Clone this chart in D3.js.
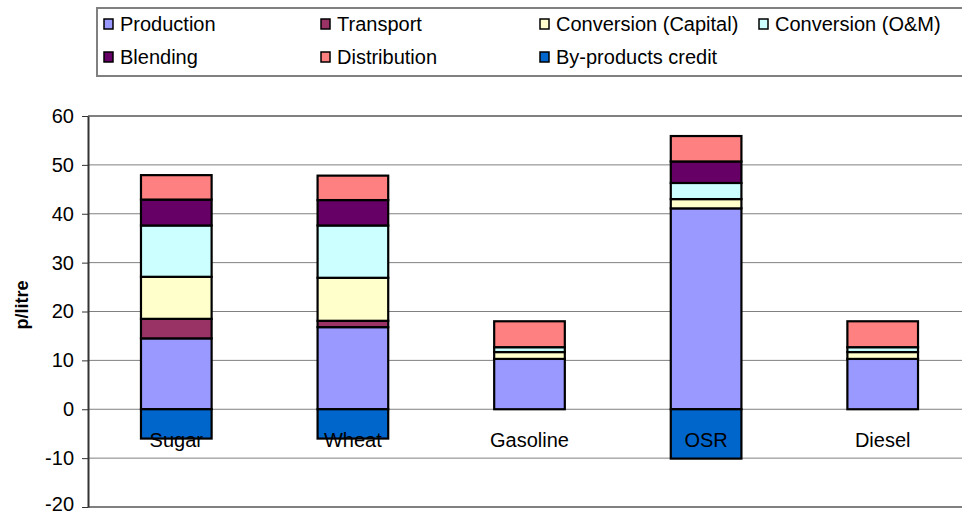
<!DOCTYPE html>
<html>
<head>
<meta charset="utf-8">
<script src="https://cdn.jsdelivr.net/npm/d3@7"></script>
<style>
  html, body { margin: 0; padding: 0; background: #fff; }
  svg { display: block; font-family: "Liberation Sans", Arial, sans-serif; }
</style>
</head>
<body>
<svg id="chart" width="962" height="516"></svg>
<script>
// Fuel cost breakdown, pence per litre
const categories = ["Sugar", "Wheat", "Gasoline", "OSR", "Diesel"];
const production   = [14.5, 16.8, 10.3, 41.1, 10.3];
const transport    = [4.0, 1.3, 0, 0, 0];
const convCapital  = [8.6, 8.8, 1.4, 1.9, 1.4];
const convOM       = [10.5, 10.7, 1.0, 3.3, 1.0];
const blending     = [5.3, 5.2, 0, 4.4, 0];
const distribution = [5.0, 5.0, 5.3, 5.2, 5.3];
const byproducts   = [-6.0, -6.0, 0, -10.1, 0];
const yTicks = [-20, -10, 0, 10, 20, 30, 40, 50, 60];

const seriesNames = ["Production", "Transport", "Conversion (Capital)", "Conversion (O&M)",
                     "Blending", "Distribution", "By-products credit"];
const seriesValues = [production, transport, convCapital, convOM, blending, distribution, byproducts];
const colors = ["#9999FF", "#993366", "#FFFFCC", "#CCFFFF", "#660066", "#FF8080", "#0066CC"];

const rows = categories.map((c, i) => {
  const r = { category: c };
  seriesNames.forEach((s, j) => r[s] = seriesValues[j][i]);
  return r;
});

const svg = d3.select("#chart");
const plot = { left: 88, right: 971, top: 116, bottom: 507 };

const x = d3.scaleBand().domain(categories).range([plot.left, plot.right]).paddingInner(0.6).paddingOuter(0.3);
const y = d3.scaleLinear().domain([-20, 60]).range([plot.bottom, plot.top]);

// gridlines
svg.append("g").selectAll("line").data(yTicks).join("line")
  .attr("x1", plot.left).attr("x2", plot.right)
  .attr("y1", d => y(d)).attr("y2", d => y(d))
  .attr("stroke", "#808080").attr("stroke-width", d => (d === 60 || d === -20) ? 2 : 1);

// stacked bars
const stack = d3.stack().keys(seriesNames).offset(d3.stackOffsetDiverging);
const layers = stack(rows);
const bars = svg.append("g");
layers.forEach((layer, k) => {
  bars.append("g").attr("fill", colors[k])
    .selectAll("rect").data(layer.filter(d => d[1] - d[0] !== 0)).join("rect")
    .attr("x", d => x(d.data.category))
    .attr("width", x.bandwidth())
    .attr("y", d => y(Math.max(d[0], d[1])))
    .attr("height", d => Math.abs(y(d[0]) - y(d[1])))
    .attr("stroke", "#000").attr("stroke-width", 2.2);
});

// y axis
const yAxis = svg.append("g").attr("transform", `translate(${plot.left},0)`)
  .call(d3.axisLeft(y).tickValues(yTicks).tickFormat(d => String(d))
    .tickSize(6).tickPadding(8).tickSizeOuter(0));
yAxis.select(".domain").attr("stroke", "#333").attr("stroke-width", 2);
yAxis.selectAll(".tick line").attr("stroke", "#333");
yAxis.selectAll(".tick text").attr("font-size", 20).attr("fill", "#000")
  .attr("font-family", "Liberation Sans, Arial, sans-serif")
  .attr("dy", d => d === -20 ? "0.18em" : "0.32em"); // keep the lowest label inside the frame

// category labels
svg.append("g").selectAll("text").data(categories).join("text")
  .attr("x", d => x(d) + x.bandwidth() / 2)
  .attr("y", 447)
  .attr("text-anchor", "middle")
  .attr("font-size", 20)
  .text(d => d);

// axis title
svg.append("text")
  .attr("transform", "translate(28,305) rotate(-90)")
  .attr("text-anchor", "middle")
  .attr("font-size", 18).attr("font-weight", "bold")
  .text("p/litre");

// legend
const legend = svg.append("g");
legend.append("rect").attr("x", 97).attr("y", 8).attr("width", 880).attr("height", 68)
  .attr("fill", "#fff").attr("stroke", "#808080").attr("stroke-width", 2);
const colX = [104, 321, 540, 759];
const rowY = [24, 57];
seriesNames.forEach((s, i) => {
  const cx = colX[i % 4], cy = rowY[Math.floor(i / 4)];
  legend.append("rect").attr("x", cx).attr("y", cy - 5).attr("width", 9).attr("height", 10)
    .attr("fill", colors[i]).attr("stroke", "#000").attr("stroke-width", 1.5);
  legend.append("text").attr("x", cx + 16).attr("y", cy).attr("dy", "0.35em")
    .attr("font-size", 20).text(s);
});
</script>
</body>
</html>
